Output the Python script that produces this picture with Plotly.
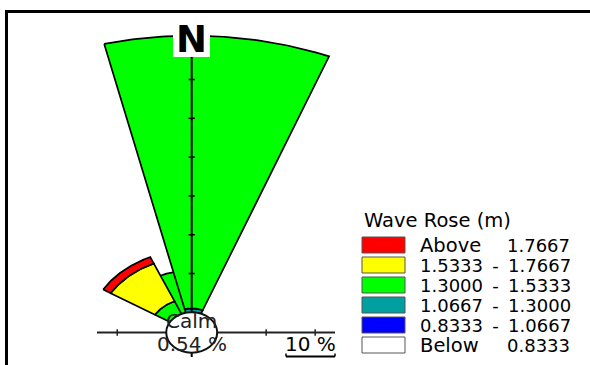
import numpy as np
import plotly.graph_objects as go

# ---------------- data ----------------
direction_names = ["NNW", "NW", "N"]          # draw order (back to front)
direction_deg = [341, 319, 4]                 # compass direction of each petal centre
# frequency (%) per wave-height bin, from lowest bin (Below 0.8333) to highest (Above 1.7667)
freq_NNW = [0, 0, 0, 10.8, 0, 0]
freq_NW = [0, 0, 0, 3.6, 10.6, 1.8]
freq_N = [0, 0, 1.0, 70.3, 0, 0]
calm_pct = 0.54

legend_title = "Wave Rose (m)"
legend_left = ["Above", "1.5333", "1.3000", "1.0667", "0.8333", "Below"]
legend_right = ["1.7667", "1.7667", "1.5333", "1.3000", "1.0667", "0.8333"]
legend_is_range = [False, True, True, True, True, False]
# colours listed top-to-bottom as in the legend (highest bin first)
bin_colors = ["#FF0000", "#FFFF00", "#00FF00", "#00A0A0", "#0000FF", "#FFFFFF"]

scale_ticks = [10, 20]        # percent rings marked on the axes
vertical_ticks = [10, 20, 30, 40, 50, 60]
scale_bar_pct = 10

# ---------------- layout constants ----------------
W, H = 590, 365
CX, CY = 191.7, 332.5           # pixel centre of the rose
SX, SY = 4.9, 3.88              # pixels per percent (image is stretched horizontally)
OFFSET = 5.2                    # calm circle radius in % units
SECTOR_WIDTH = 35.0
FONT = "DejaVu Sans"
NUM_SIZE = 18
WORD_SIZE = 19.5

xr = [-CX / SX, (W - CX) / SX]
yr = [(CY - H) / SY, CY / SY]


def px2paper(px, py):
    return px / W, 1 - py / H


def wedge(r0, r1, centre, width):
    th = np.radians(np.linspace(centre - width / 2, centre + width / 2, 60))
    xo, yo = r1 * np.sin(th), r1 * np.cos(th)
    xi, yi = r0 * np.sin(th[::-1]), r0 * np.cos(th[::-1])
    x = np.concatenate([xo, xi, xo[:1]])
    y = np.concatenate([yo, yi, yo[:1]])
    return x, y


fig = go.Figure()

colors_low_to_high = bin_colors[::-1]
for name, deg, freqs in zip(direction_names, direction_deg, [freq_NNW, freq_NW, freq_N]):
    r = OFFSET
    for f, col in zip(freqs, colors_low_to_high):
        if f <= 0:
            continue
        x, y = wedge(r, r + f, deg, SECTOR_WIDTH)
        fig.add_trace(go.Scatter(x=x, y=y, mode="lines", fill="toself", fillcolor=col,
                                 line=dict(color="black", width=1.7), hoverinfo="skip",
                                 showlegend=False, name=name))
        r += f

shapes = []
# frame
fx0, fy1 = px2paper(6.5, 11.5)
shapes.append(dict(type="rect", xref="paper", yref="paper", x0=fx0, x1=1.2, y0=-0.2, y1=fy1,
                   line=dict(color="black", width=3), fillcolor="rgba(0,0,0,0)", layer="above"))
# axes lines
h_left = (97 - CX) / SX
h_right = (335 - CX) / SX
shapes.append(dict(type="line", x0=h_left, x1=h_right, y0=0, y1=0,
                   line=dict(color="#222", width=2), layer="above"))
shapes.append(dict(type="line", x0=0, x1=0, y0=(CY - 357) / SY, y1=OFFSET + 70,
                   line=dict(color="black", width=2), layer="above"))
tl_x = 3.2 / SX
tl_y = 3.2 / SY
for t in scale_ticks:
    for sgn in (-1, 1):
        xv = sgn * (OFFSET + t)
        if h_left <= xv <= h_right:
            shapes.append(dict(type="line", x0=xv, x1=xv, y0=-tl_y, y1=tl_y,
                               line=dict(color="#222", width=1.5), layer="above"))
for t in vertical_ticks:
    yv = OFFSET + t
    shapes.append(dict(type="line", x0=-tl_x, x1=tl_x, y0=yv, y1=yv,
                       line=dict(color="black", width=1.5), layer="above"))
# scale bar
bar_x1 = (335 - CX) / SX
bar_x0 = bar_x1 - scale_bar_pct
bar_y = (CY - 356.5) / SY
shapes.append(dict(type="line", x0=bar_x0, x1=bar_x1, y0=bar_y, y1=bar_y,
                   line=dict(color="black", width=2), layer="above"))
for xv in (bar_x0, bar_x1):
    shapes.append(dict(type="line", x0=xv, x1=xv, y0=bar_y, y1=bar_y + 3 / SY,
                       line=dict(color="black", width=1.5), layer="above"))
# calm circle
shapes.append(dict(type="circle", x0=-OFFSET, x1=OFFSET, y0=-OFFSET, y1=OFFSET,
                   fillcolor="white", line=dict(color="#111", width=2), layer="above"))
# N label box
nx0, ny0 = px2paper(173, 57)
nx1, ny1 = px2paper(210, 24)
shapes.append(dict(type="rect", xref="paper", yref="paper", x0=nx0, x1=nx1, y0=ny0, y1=ny1,
                   fillcolor="white", line=dict(width=0), layer="above"))

# legend boxes
row_y = [245 + 20 * i for i in range(len(legend_left))]
for py, col in zip(row_y, bin_colors):
    bx0, by0 = px2paper(362, py + 8)
    bx1, by1 = px2paper(405, py - 8)
    shapes.append(dict(type="rect", xref="paper", yref="paper", x0=bx0, x1=bx1, y0=by0, y1=by1,
                       fillcolor=col, line=dict(color="#555", width=1), layer="above"))

ann = []
ann.append(dict(x=0, y=(CY - 39) / SY, text="<b>N</b>", showarrow=False,
                font=dict(family=FONT, size=37, color="black"), xanchor="center", yanchor="middle"))
ann.append(dict(x=0, y=(CY - 321) / SY, text="Calm", showarrow=False,
                font=dict(family=FONT, size=20, color="#222"), xanchor="center", yanchor="middle"))
ann.append(dict(x=0, y=(CY - 344) / SY, text=f"{calm_pct:.2f} %", showarrow=False,
                font=dict(family=FONT, size=20, color="#222"), xanchor="center", yanchor="middle"))
ann.append(dict(x=(bar_x0 + bar_x1) / 2, y=(CY - 344) / SY, text=f"{scale_bar_pct} %",
                showarrow=False, font=dict(family=FONT, size=20, color="black"),
                xanchor="center", yanchor="middle"))

tx, ty = px2paper(362, 220)
ann.append(dict(xref="paper", yref="paper", x=tx, y=ty, text=legend_title, showarrow=False,
                font=dict(family=FONT, size=WORD_SIZE, color="black"), xanchor="left",
                yanchor="middle"))
sp = "&nbsp;&#8201;"
for py, lt, rt, rng in zip(row_y, legend_left, legend_right, legend_is_range):
    lx, ly = px2paper(418, py)
    rx, _ = px2paper(572, py)
    if rng:
        ann.append(dict(xref="paper", yref="paper", x=lx, y=ly, text=f"{lt}{sp}-{sp}{rt}",
                        showarrow=False, font=dict(family=FONT, size=NUM_SIZE, color="black"),
                        xanchor="left", yanchor="middle"))
    else:
        ann.append(dict(xref="paper", yref="paper", x=lx, y=ly, text=lt, showarrow=False,
                        font=dict(family=FONT, size=WORD_SIZE, color="black"), xanchor="left",
                        yanchor="middle"))
        ann.append(dict(xref="paper", yref="paper", x=rx, y=ly, text=rt, showarrow=False,
                        font=dict(family=FONT, size=NUM_SIZE, color="black"), xanchor="right",
                        yanchor="middle"))

fig.update_layout(
    width=W, height=H,
    margin=dict(l=0, r=0, t=0, b=0, pad=0),
    paper_bgcolor="white", plot_bgcolor="white",
    xaxis=dict(range=xr, visible=False, fixedrange=True),
    yaxis=dict(range=yr, visible=False, fixedrange=True),
    shapes=shapes, annotations=ann, showlegend=False,
)

fig.write_html("out.html", config={"displayModeBar": False},
               post_script="document.body.style.margin='0';document.body.style.overflow='hidden';")
